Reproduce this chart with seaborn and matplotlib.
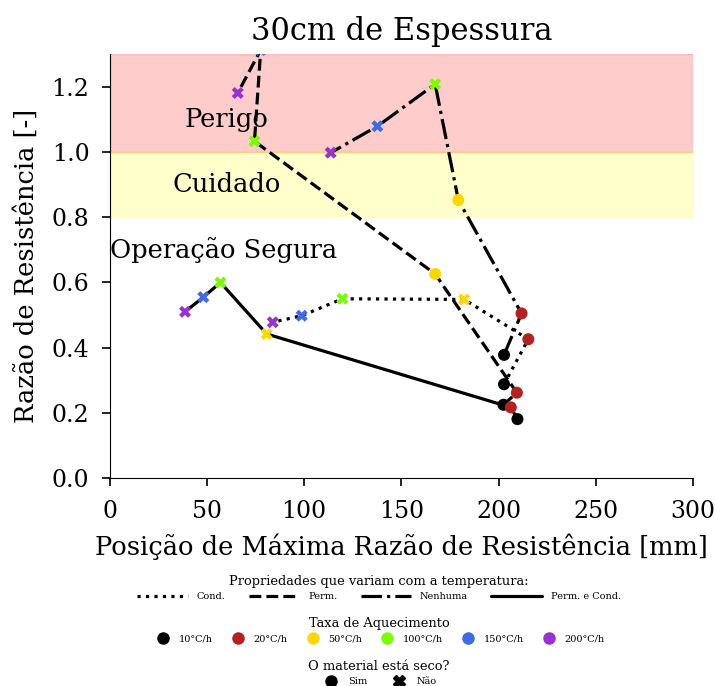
import matplotlib
matplotlib.use("Agg")
import matplotlib.pyplot as plt
from matplotlib.lines import Line2D
import seaborn as sns
import pandas as pd

sns.set_style("ticks", {"axes.edgecolor": "black", "text.color": "black",
                        "xtick.color": "black", "ytick.color": "black",
                        "axes.labelcolor": "black"})
plt.rcParams["font.family"] = ["DejaVu Serif"]

# Heating rates (°C/h) and the colour used for each
taxas = [10, 20, 50, 100, 150, 200]
taxa_labels = ["10°C/h", "20°C/h", "50°C/h", "100°C/h", "150°C/h", "200°C/h"]
cores = ["black", "firebrick", "gold", "lawngreen", "royalblue", "darkorchid"]

# Temperature-dependent properties (one curve each)
props = ["Cond.", "Perm.", "Nenhuma", "Perm. e Cond."]

# Position of maximum resistance ratio [mm] and resistance ratio [-]
pos_cond = [202.8, 215.3, 182.3, 119.7, 98.8, 83.9]
raz_cond = [0.288, 0.426, 0.548, 0.550, 0.498, 0.478]
seco_cond = ["Sim", "Sim", "Não", "Não", "Não", "Não"]

pos_perm = [202.5, 209.4, 167.4, 74.5, 77.7, 65.9]
raz_perm = [0.225, 0.262, 0.626, 1.033, 1.313, 1.181]
seco_perm = ["Sim", "Sim", "Sim", "Não", "Não", "Não"]

pos_nenhuma = [202.8, 211.8, 179.3, 167.4, 137.7, 113.7]
raz_nenhuma = [0.378, 0.505, 0.853, 1.208, 1.079, 0.998]
seco_nenhuma = ["Sim", "Sim", "Sim", "Não", "Não", "Não"]

pos_ambas = [209.7, 206.3, 80.8, 57.0, 48.2, 38.8]
raz_ambas = [0.181, 0.217, 0.442, 0.600, 0.555, 0.510]
seco_ambas = ["Sim", "Sim", "Não", "Não", "Não", "Não"]

frames = []
for prop, pos, raz, seco in zip(
    props,
    [pos_cond, pos_perm, pos_nenhuma, pos_ambas],
    [raz_cond, raz_perm, raz_nenhuma, raz_ambas],
    [seco_cond, seco_perm, seco_nenhuma, seco_ambas],
):
    frames.append(pd.DataFrame({"prop": prop, "taxa": taxas, "pos": pos,
                                "raz": raz, "seco": seco}))
df = pd.concat(frames, ignore_index=True)

estilos = {"Cond.": (1, 1.65), "Perm.": (3.7, 1.6),
           "Nenhuma": (6.4, 1.6, 1, 1.6), "Perm. e Cond.": ""}
linestyles = {"Cond.": ":", "Perm.": "--", "Nenhuma": "-.", "Perm. e Cond.": "-"}
paleta = dict(zip(taxas, cores))

fig = plt.figure(figsize=(7.16, 6.86), dpi=100)
ax = fig.add_axes([0.153, 0.303, 0.815, 0.618])

# Safety bands
ax.axhspan(1.0, 1.3, color="red", alpha=0.2, zorder=0)
ax.axhspan(0.8, 1.0, color="yellow", alpha=0.2, zorder=0)

sns.lineplot(data=df, x="pos", y="raz", style="prop", units="prop",
             estimator=None, sort=False, color="black", dashes=estilos,
             linewidth=2.3, legend=False, ax=ax, zorder=2)
sns.scatterplot(data=df, x="pos", y="raz", hue="taxa", palette=paleta,
                style="seco", markers={"Sim": "o", "Não": "X"}, s=75,
                linewidth=0, legend=False, ax=ax, zorder=3)

ax.text(60, 1.1, "Perigo", ha="center", va="center", fontsize=18.5)
ax.text(60, 0.9, "Cuidado", ha="center", va="center", fontsize=18.5)
ax.text(0.3, 0.7, "Operação Segura", ha="left", va="center", fontsize=18.5)

ax.set_xlim(0, 300)
ax.set_ylim(0, 1.3)
ax.set_yticks([0.0, 0.2, 0.4, 0.6, 0.8, 1.0, 1.2])
ax.tick_params(labelsize=17, length=6, width=1.2)
ax.tick_params(axis="x", pad=10)
ax.tick_params(axis="y", pad=8.5)
ax.set_xlabel("Posição de Máxima Razão de Resistência [mm]", fontsize=18.5,
              labelpad=7.5)
ax.set_ylabel("Razão de Resistência [-]", fontsize=18.5, labelpad=9)
ax.set_title("30cm de Espessura", fontsize=22, pad=10)
sns.despine(ax=ax)

cx = 379 / 716
h1 = [Line2D([], [], color="black", lw=2.3, linestyle=linestyles[p]) for p in props]
leg1 = fig.legend(h1, props, title="Propriedades que variam com a temperatura:",
                  loc="center", bbox_to_anchor=(cx, 1 - 588 / 686), ncol=4,
                  frameon=False, fontsize=7, title_fontsize=9.4,
                  handlelength=5.2, columnspacing=2.4, handletextpad=0.9)
h2 = [Line2D([], [], color=c, marker="o", linestyle="", markersize=8) for c in cores]
leg2 = fig.legend(h2, taxa_labels, title="Taxa de Aquecimento",
                  loc="center", bbox_to_anchor=(cx, 1 - 630 / 686), ncol=6,
                  frameon=False, fontsize=7, title_fontsize=9.4,
                  columnspacing=1.6, handletextpad=0.6)
h3 = [Line2D([], [], color="black", marker=m, linestyle="", markersize=8)
      for m in ["o", "X"]]
leg3 = fig.legend(h3, ["Sim", "Não"], title="O material está seco?",
                  loc="center", bbox_to_anchor=(cx, 1 - 673 / 686), ncol=2,
                  frameon=False, fontsize=7, title_fontsize=9.4,
                  columnspacing=2.2, handletextpad=0.8)

fig.savefig("out.png", dpi=100)
